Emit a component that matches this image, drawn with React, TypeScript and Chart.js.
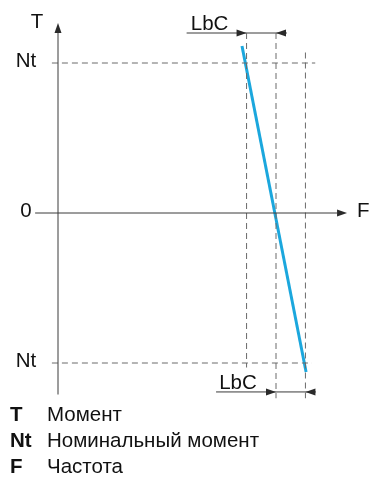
import React, { useEffect, useRef } from "react";
import { Chart, registerables } from "chart.js";
Chart.register(...registerables);

// ---- data (frequency in % of synchronous, torque in units of Nt) ----
const torqueTicks = [1, 0, -1];
const torqueTickLabels = ["Nt", "0", "Nt"];
const freqGuides = [86.5, 100, 113.5]; // f - LbC, f sync, f + LbC
const lbcLabel = "LbC";
const curveF = [84.4, 113.8];
const curveT = [1.113, -1.06];
const axisNames = ["T", "F"];
const legendKeys = ["T", "Nt", "F"];
const legendTexts = ["Момент", "Номинальный момент", "Частота"];

const W = 369;
const H = 477;
const FONT = "'Liberation Sans', Arial, sans-serif";
const FS = 20.5;

export default function App() {
  const ref = useRef<HTMLCanvasElement>(null);
  useEffect(() => {
    if (!ref.current) return;
    const [fLo, fS, fHi] = freqGuides;
    const nt = torqueTicks[0];
    const dimTop = 1.2;
    const dimBot = -1.193;
    const axisStyle: any = { borderColor: "#3a3a3a", borderWidth: 1, pointRadius: 0, showLine: true, clip: false };
    const dashStyle: any = { borderColor: "#6a6a6a", borderWidth: 1, borderDash: [6, 4], pointRadius: 0, showLine: true, clip: false };
    const line = (a: number[], b: number[], style: any) => ({
      data: [{ x: a[0], y: a[1] }, { x: b[0], y: b[1] }],
      ...style,
    });
    const datasets: any[] = [
      line([0, -1.21], [0, 1.2], axisStyle),
      line([-10.5, 0], [128, 0], axisStyle),
      line([-2.8, nt], [118, nt], dashStyle),
      line([-2.8, -nt], [116.5, -nt], dashStyle),
      line([fLo, 1.2], [fLo, -1.03], dashStyle),
      line([fS, 1.2], [fS, -1.235], dashStyle),
      line([fHi, 1.07], [fHi, -1.235], dashStyle),
      line([59, dimTop], [105, dimTop], axisStyle),
      line([72.5, dimBot], [118.3, dimBot], axisStyle),
      {
        data: curveF.map((f, i) => ({ x: f, y: curveT[i] })),
        borderColor: "#1ba7dd",
        borderWidth: 3,
        pointRadius: 0,
        showLine: true,
        clip: false,
      },
    ];

    const overlay = {
      id: "overlay",
      afterDraw(chart: any) {
        const ctx = chart.ctx;
        const xs = chart.scales.x;
        const ys = chart.scales.y;
        const px = (v: number) => xs.getPixelForValue(v);
        const py = (v: number) => ys.getPixelForValue(v);
        const arrow = (x: number, y: number, dir: string) => {
          const L = 10, hw = 3.5;
          ctx.save();
          ctx.fillStyle = "#2a2a2a";
          ctx.beginPath();
          if (dir === "up") { ctx.moveTo(x, y); ctx.lineTo(x - hw, y + L); ctx.lineTo(x + hw, y + L); }
          if (dir === "right") { ctx.moveTo(x, y); ctx.lineTo(x - L, y - hw); ctx.lineTo(x - L, y + hw); }
          if (dir === "left") { ctx.moveTo(x, y); ctx.lineTo(x + L, y - hw); ctx.lineTo(x + L, y + hw); }
          ctx.closePath();
          ctx.fill();
          ctx.restore();
        };
        const x0 = px(0);
        const y0 = py(0);
        arrow(x0, py(1.2) - 10, "up");
        arrow(px(128) + 10, y0, "right");
        arrow(px(fLo), py(dimTop), "right");
        arrow(px(fS), py(dimTop), "left");
        arrow(px(fS), py(dimBot), "right");
        arrow(px(fHi), py(dimBot), "left");

        ctx.save();
        ctx.fillStyle = "#111";
        ctx.font = `${FS}px ${FONT}`;
        ctx.textBaseline = "middle";
        ctx.textAlign = "center";
        torqueTicks.forEach((t, i) => {
          ctx.fillText(torqueTickLabels[i], x0 - 32, py(t) - 2);
        });
        ctx.fillText(axisNames[0], x0 - 21, py(1.2) - 11);
        ctx.textAlign = "left";
        ctx.fillText(axisNames[1], px(128) + 20, y0 - 2);
        ctx.textBaseline = "bottom";
        ctx.textAlign = "center";
        ctx.fillText(lbcLabel, px(fLo) - 37, py(dimTop) + 2);
        ctx.fillText(lbcLabel, px(fS) - 38, py(dimBot) + 2);

        ctx.textBaseline = "middle";
        ctx.textAlign = "left";
        const ly = [415, 441, 467];
        legendKeys.forEach((k, i) => {
          ctx.font = `bold ${FS}px ${FONT}`;
          ctx.fillText(k, 10, ly[i]);
          ctx.font = `${FS}px ${FONT}`;
          ctx.fillText(legendTexts[i], 47, ly[i]);
        });
        ctx.restore();
      },
    };

    const chart = new Chart(ref.current, {
      type: "scatter",
      data: { datasets },
      options: {
        animation: false,
        responsive: false,
        layout: { padding: 0 },
        plugins: { legend: { display: false }, tooltip: { enabled: false } },
        scales: {
          x: { type: "linear", display: false, min: -26.606, max: -26.606 + W / 2.18 },
          y: { type: "linear", display: false, max: 1.42, min: 1.42 - H / 150 },
        },
      },
      plugins: [overlay],
    });
    return () => chart.destroy();
  }, []);
  return (
    <div style={{ position: "absolute", left: 0, top: 0, width: W, height: H, background: "#fff" }}>
      <canvas ref={ref} width={W} height={H} />
    </div>
  );
}
